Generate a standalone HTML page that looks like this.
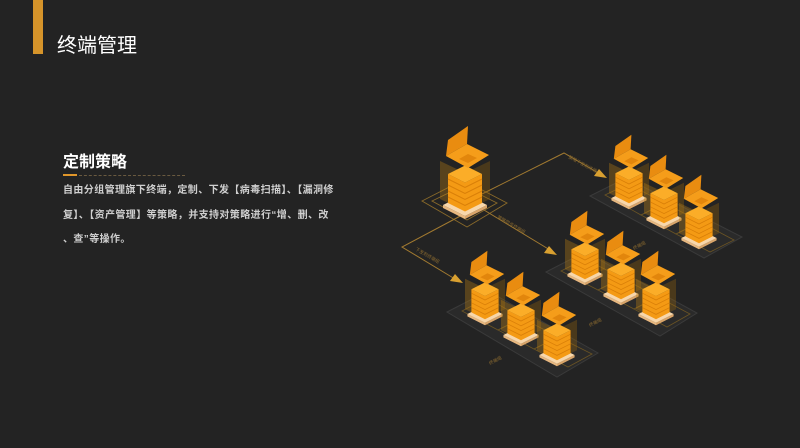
<!DOCTYPE html>
<html><head><meta charset="utf-8"><style>
html,body{margin:0;padding:0;background:#232323;width:800px;height:448px;overflow:hidden}
body{position:relative;font-family:"Liberation Sans","Noto Sans CJK SC",sans-serif}
.bar{position:absolute;left:33px;top:0;width:10px;height:54px;background:#d6942a}
.t{position:absolute;left:57px;top:29px;color:#fff;font-size:20px}
.h{position:absolute;left:63px;top:148px;color:#fff;font-size:16px;font-weight:bold}
.l1{position:absolute;left:63px;top:174px;width:14px;height:2px;background:#e0962a}
.l2{position:absolute;left:79px;top:175px;width:106px;border-top:1px dashed #6a5a40}
.p{position:absolute;left:63px;top:179px;color:#cfcfcf;font-size:10px;line-height:24.5px;white-space:nowrap;font-weight:bold;letter-spacing:0.4px}
svg{position:absolute;left:0;top:0}
</style></head><body>
<div class="bar"></div>
<div class="t">终端管理</div>
<div class="h">定制策略</div>
<div class="l1"></div><div class="l2"></div>
<div class="p">自由分组管理旗下终端，定制、下发【病毒扫描】、【漏洞修<br>复】、【资产管理】等策略，并支持对策略进行“增、删、改<br>、查”等操作。</div>
<svg width="800" height="448" viewBox="0 0 800 448">
<defs>
<g id="dev">
 <polygon points="-25,-44 0,-32 0,6 -25,-6" fill="rgba(190,130,20,0.35)"/>
 <polygon points="0,-32 25,-44 25,-6 0,6" fill="rgba(150,100,15,0.35)"/>
 <polygon points="-22,0 0,11 0,14 -22,3" fill="#e8b880"/>
 <polygon points="0,11 22,0 22,3 0,14" fill="#d9a56a"/>
 <polygon points="-22,0 0,-11 22,0 0,11" fill="#f8d7ab"/>
 <polygon points="-17,-31 0,-22.5 17,-31 17,-2 0,6.5 -17,-2" fill="#f49a14"/>
 <g fill="none" stroke="#d97f08" stroke-width="1">
  <polyline points="-17,-8 0,0.5 17,-8"/>
  <polyline points="-17,-14 0,-5.5 17,-14"/>
  <polyline points="-17,-20 0,-11.5 17,-20"/>
  <polyline points="-17,-26 0,-17.5 17,-26"/>
 </g>
 <polygon points="-17,-31 0,-39.5 17,-31 0,-22.5" fill="#fbad28"/>
 <polygon points="-19,-49 -17,-65 3,-79 2,-61" fill="#e98c10"/>
 <polygon points="-19,-49 2,-61 24,-50 3,-37" fill="#f59d1a"/>
 <polygon points="-6,-46 3,-51 12,-47 3,-42" fill="#e2860c"/>
</g>
</defs>
<g fill="#2a2a2a" stroke="#3a3a3a" stroke-width="1">
 <polygon points="590,196 626,178 742,237 704,258"/>
 <polygon points="546,272 585,252 697,313 660,336"/>
 <polygon points="447,312 488,291 598,353 557,377"/>
</g>
<g fill="none" stroke="#6b5424" stroke-width="0.8">
 <polygon points="605,195 628,184 665,203 641,215"/>
 <polygon points="641,215 665,203 700,222 676,234"/>
 <polygon points="676,234 700,222 734,240 710,252"/>
 <polygon points="561,271 585,259 622,278 598,290"/>
 <polygon points="598,290 622,278 658,297 634,309"/>
 <polygon points="634,309 658,297 690,314 667,327"/>
 <polygon points="462,311 487,298 522,318 498,330"/>
 <polygon points="498,330 522,318 558,337 534,349"/>
 <polygon points="534,349 558,337 592,354 568,367"/>
</g>
<g fill="none" stroke="#8a6a2a" stroke-width="0.9">
 <polygon points="422,201 463,180 507,203 467,227"/>
 <polygon points="432,201 463,186 497,203 467,220"/>
</g>
<g fill="none" stroke="#a27a30" stroke-width="1">
 <polyline points="478,196 564,153 600,174"/>
 <polyline points="484,210 550,250"/>
 <polyline points="466,213 402,247 455,279"/>
</g>
<g fill="#d9a030">
 <polygon points="607,178 594,176 599,169"/>
 <polygon points="557,255 544,253 549,246"/>
 <polygon points="463,283 450,281 455,274"/>
</g>
<g fill="#8a6a30" font-size="4.5">
 <text x="568" y="158" transform="rotate(28 568 158)">策略下发到终端</text>
 <text x="497" y="218" transform="rotate(30 497 218)">策略同步终端组</text>
 <text x="415" y="250" transform="rotate(30 415 250)">下发到终端组</text>
 <text x="634" y="250" transform="rotate(-28 634 250)">终端组</text>
 <text x="590" y="327" transform="rotate(-28 590 327)">终端组</text>
 <text x="490" y="365" transform="rotate(-28 490 365)">终端组</text>
</g>
<use href="#dev" transform="translate(465,205)"/>
<use href="#dev" transform="translate(629,198) scale(0.8)"/>
<use href="#dev" transform="translate(664,218) scale(0.8)"/>
<use href="#dev" transform="translate(699,238) scale(0.8)"/>
<use href="#dev" transform="translate(585,274) scale(0.8)"/>
<use href="#dev" transform="translate(621,294) scale(0.8)"/>
<use href="#dev" transform="translate(656,314) scale(0.8)"/>
<use href="#dev" transform="translate(485,314) scale(0.8)"/>
<use href="#dev" transform="translate(521,335) scale(0.8)"/>
<use href="#dev" transform="translate(557,355) scale(0.8)"/>
</svg>
</body></html>
